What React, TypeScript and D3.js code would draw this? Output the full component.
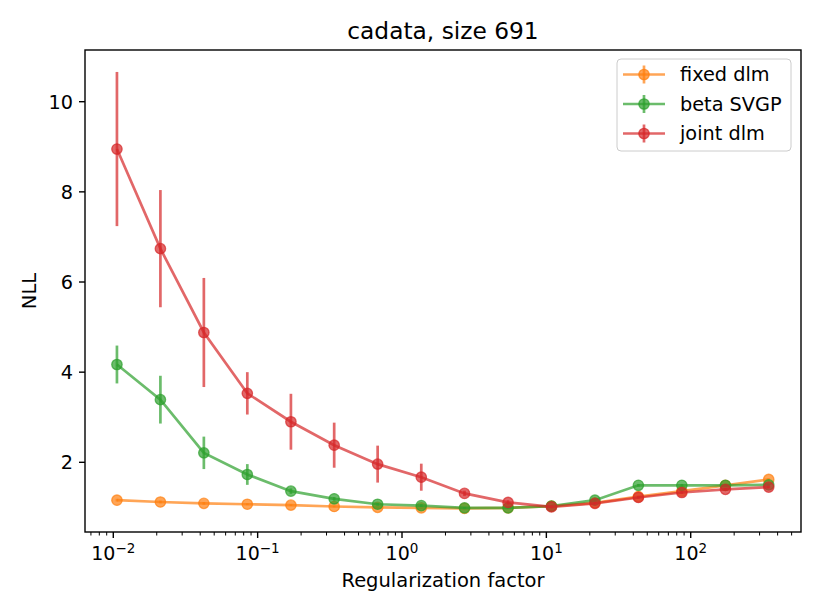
import React from "react";
import { scaleLog, scaleLinear, line } from "d3";

const regFactors = [
  0.0106, 0.0212, 0.0424, 0.0848, 0.17, 0.339, 0.678, 1.36, 2.71, 5.43, 10.85,
  21.7, 43.4, 86.8, 174, 347,
];

const fixedMean = [
  1.16, 1.12, 1.09, 1.07, 1.05, 1.02, 1.0, 0.99, 0.98, 0.99, 1.03, 1.1, 1.24,
  1.36, 1.49, 1.62,
];
const fixedErr = [
  0.03, 0.03, 0.03, 0.02, 0.02, 0.02, 0.02, 0.02, 0.02, 0.02, 0.02, 0.02, 0.02,
  0.03, 0.03, 0.03,
];

const betaMean = [
  4.17, 3.39, 2.21, 1.73, 1.36, 1.19, 1.07, 1.04, 0.99, 0.99, 1.03, 1.16, 1.49,
  1.49, 1.49, 1.5,
];
const betaErr = [
  0.42, 0.53, 0.36, 0.23, 0.06, 0.04, 0.03, 0.03, 0.02, 0.02, 0.02, 0.03, 0.03,
  0.03, 0.03, 0.03,
];

const jointMean = [
  8.95, 6.74, 4.88, 3.53, 2.9, 2.38, 1.96, 1.67, 1.31, 1.11, 1.01, 1.09, 1.22,
  1.33, 1.4, 1.45,
];
const jointErr = [
  1.71, 1.3, 1.21, 0.47, 0.62, 0.5, 0.41, 0.3, 0.06, 0.05, 0.03, 0.03, 0.03,
  0.03, 0.03, 0.03,
];

const seriesNames = ["fixed dlm", "beta SVGP", "joint dlm"];
const seriesColors = ["#ff7f0e", "#2ca02c", "#d62728"];
const yTicks = [2, 4, 6, 8, 10];
const xDecades = [-2, -1, 0, 1, 2];

const W = 822;
const H = 616;
const margin = { left: 85, right: 21, top: 50, bottom: 84 };
const FONT = "DejaVu Sans, sans-serif";
const ALPHA = 0.7;
const LW = 2.7;

export default function App() {
  const x = scaleLog()
    .domain([Math.pow(10, -2.196), Math.pow(10, 2.764)])
    .range([margin.left, W - margin.right]);
  const y = scaleLinear()
    .domain([0.454, 11.147])
    .range([H - margin.bottom, margin.top]);

  const series = [
    { mean: fixedMean, err: fixedErr },
    { mean: betaMean, err: betaErr },
    { mean: jointMean, err: jointErr },
  ];

  const path = line<number>()
    .x((_, i) => x(regFactors[i]))
    .y((d) => y(d));

  const [d0, d1] = x.domain();
  const minorTicks: number[] = [];
  for (let e = -3; e <= 3; e++) {
    for (let m = 2; m <= 9; m++) {
      const v = m * Math.pow(10, e);
      if (v >= d0 && v <= d1) minorTicks.push(v);
    }
  }

  const x0 = margin.left;
  const x1 = W - margin.right;
  const yb = H - margin.bottom;
  const yt = margin.top;

  const marker = (cx: number, cy: number, c: string, key?: number) => (
    <circle
      key={key}
      cx={cx}
      cy={cy}
      r={5.2}
      fill={c}
      fillOpacity={ALPHA}
      stroke={c}
      strokeOpacity={ALPHA}
      strokeWidth={1.3}
    />
  );

  return (
    <svg width={W} height={H} style={{ display: "block" }} fontFamily={FONT}>
      <style>{`body{margin:0}`}</style>
      <rect width={W} height={H} fill="#fff" />

      {series.map((s, si) => (
        <g key={si}>
          {s.mean.map((m, i) => (
            <line
              key={i}
              x1={x(regFactors[i])}
              x2={x(regFactors[i])}
              y1={y(m - s.err[i])}
              y2={y(m + s.err[i])}
              stroke={seriesColors[si]}
              strokeOpacity={ALPHA}
              strokeWidth={LW}
            />
          ))}
          <path
            d={path(s.mean) ?? ""}
            fill="none"
            stroke={seriesColors[si]}
            strokeOpacity={ALPHA}
            strokeWidth={LW}
          />
          {s.mean.map((m, i) =>
            marker(x(regFactors[i]), y(m), seriesColors[si], i)
          )}
        </g>
      ))}

      {/* axes frame */}
      <rect
        x={x0}
        y={yt}
        width={x1 - x0}
        height={yb - yt}
        fill="none"
        stroke="#000"
        strokeWidth={1.4}
      />

      {/* y ticks */}
      {yTicks.map((t) => (
        <g key={t}>
          <line x1={x0 - 6} x2={x0} y1={y(t)} y2={y(t)} stroke="#000" strokeWidth={1.4} />
          <text
            x={x0 - 12}
            y={y(t)}
            dy="0.36em"
            textAnchor="end"
            fontSize={19.3}
          >
            {t}
          </text>
        </g>
      ))}

      {/* x ticks */}
      {minorTicks.map((t, i) => (
        <line
          key={i}
          x1={x(t)}
          x2={x(t)}
          y1={yb}
          y2={yb + 3.5}
          stroke="#000"
          strokeWidth={1}
        />
      ))}
      {xDecades.map((e) => (
        <g key={e}>
          <line
            x1={x(Math.pow(10, e))}
            x2={x(Math.pow(10, e))}
            y1={yb}
            y2={yb + 6}
            stroke="#000"
            strokeWidth={1.4}
          />
          <text x={x(Math.pow(10, e))} y={yb + 28} textAnchor="middle" fontSize={19}>
            10
            <tspan dy={-7.5} fontSize={13.5}>
              {e < 0 ? `\u2212${-e}` : `${e}`}
            </tspan>
          </text>
        </g>
      ))}

      {/* labels */}
      <text x={(x0 + x1) / 2} y={38.5} textAnchor="middle" fontSize={23.3}>
        cadata, size 691
      </text>
      <text x={(x0 + x1) / 2} y={587} textAnchor="middle" fontSize={19.5}>
        Regularization factor
      </text>
      <text
        transform={`translate(36, ${(yt + yb) / 2}) rotate(-90)`}
        textAnchor="middle"
        fontSize={19.5}
      >
        NLL
      </text>

      {/* legend */}
      <rect
        x={617}
        y={59}
        width={174}
        height={92}
        rx={4}
        fill="#fff"
        fillOpacity={0.8}
        stroke="#ccc"
        strokeWidth={1}
      />
      {seriesNames.map((name, i) => {
        const ly = 74.5 + i * 29.5;
        return (
          <g key={name}>
            <line x1={623} x2={665} y1={ly} y2={ly} stroke={seriesColors[i]} strokeOpacity={ALPHA} strokeWidth={LW} />
            <line x1={644} x2={644} y1={ly - 9} y2={ly + 9} stroke={seriesColors[i]} strokeOpacity={ALPHA} strokeWidth={LW} />
            {marker(644, ly, seriesColors[i])}
            <text x={680} y={ly} dy="0.36em" fontSize={19.3}>
              {name}
            </text>
          </g>
        );
      })}
    </svg>
  );
}
